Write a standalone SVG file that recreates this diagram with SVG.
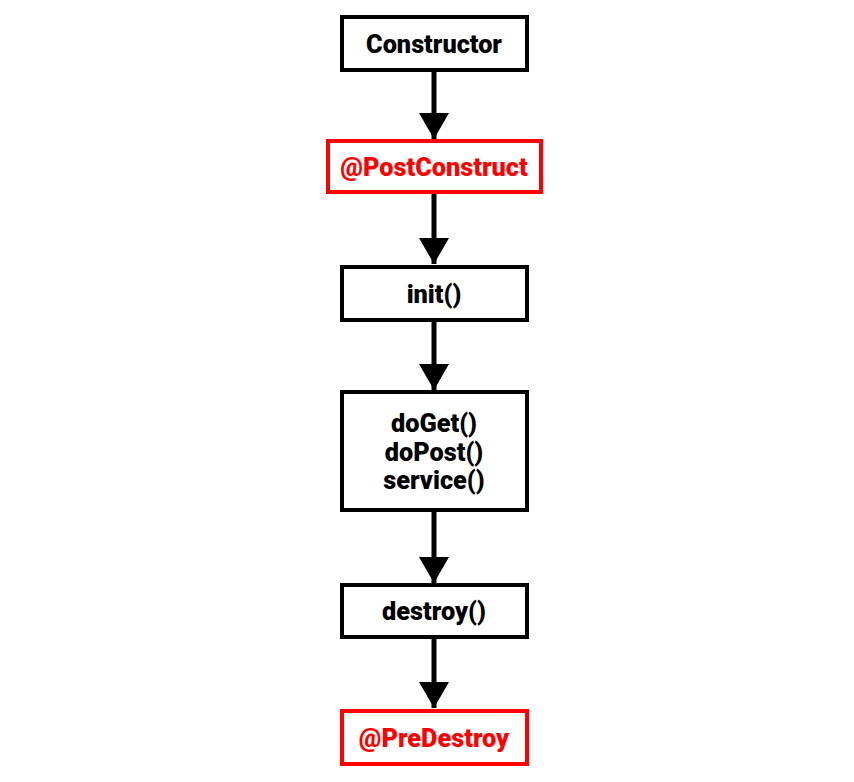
<svg xmlns="http://www.w3.org/2000/svg" width="854" height="782" viewBox="0 0 854 782">
<style>
.box{fill:#fff;stroke:#000;stroke-width:4}
.red{fill:#fff;stroke:#ff0000;stroke-width:4}
text{font-family:Roboto,"Liberation Sans",sans-serif;font-weight:900;font-size:25.3px;text-anchor:middle;fill:#000}
.rt{fill:#ff0000}
.edge{stroke:#000;stroke-width:5;fill:none}
</style>
<defs>
<marker id="ah" markerUnits="userSpaceOnUse" markerWidth="26" markerHeight="30" refX="26" refY="15" orient="auto">
<path d="M0,0 L26,15 L0,30 Z" fill="#000"/>
</marker>
</defs>
<rect width="854" height="782" fill="#fff"/>
<g id="connectors">
<line class="edge" x1="434" y1="70" x2="434" y2="139" marker-end="url(#ah)"/>
<line class="edge" x1="434" y1="192" x2="434" y2="264" marker-end="url(#ah)"/>
<line class="edge" x1="434" y1="320" x2="434" y2="390" marker-end="url(#ah)"/>
<line class="edge" x1="434" y1="510" x2="434" y2="583" marker-end="url(#ah)"/>
<line class="edge" x1="434" y1="637" x2="434" y2="708" marker-end="url(#ah)"/>
</g>
<g id="constructor">
<rect class="box" x="342" y="17" width="185" height="53"/>
<text x="434" y="53">Constructor</text>
</g>
<g id="postconstruct">
<rect class="red" x="328" y="141" width="213" height="51"/>
<text class="rt" x="434" y="176">@PostConstruct</text>
</g>
<g id="init">
<rect class="box" x="342" y="267" width="185" height="53"/>
<text x="434" y="303">init()</text>
</g>
<g id="service">
<rect class="box" x="342" y="392" width="185" height="118"/>
<text x="434" y="432">doGet()</text>
<text x="434" y="461">doPost()</text>
<text x="434" y="489">service()</text>
</g>
<g id="destroy">
<rect class="box" x="342" y="585" width="185" height="52"/>
<text x="434" y="620">destroy()</text>
</g>
<g id="predestroy">
<rect class="red" x="342" y="711" width="185" height="53"/>
<text class="rt" x="434" y="747">@PreDestroy</text>
</g>
</svg>
